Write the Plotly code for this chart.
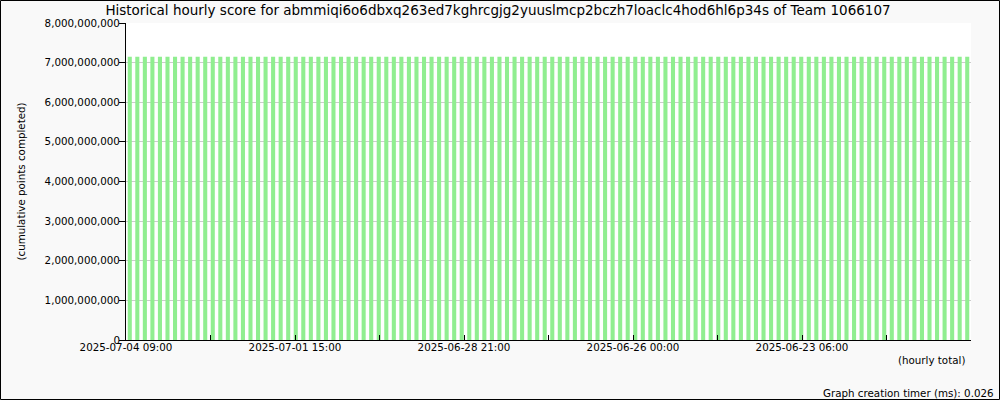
import plotly.graph_objects as go

title_text = "Historical hourly score for abmmiqi6o6dbxq263ed7kghrcgjg2yuuslmcp2bczh7loaclc4hod6hl6p34s of Team 1066107"

# 112 hourly bars, all at the same cumulative score
scores = [
    7150000000, 7150000000, 7150000000, 7150000000, 7150000000, 7150000000, 7150000000, 7150000000,
    7150000000, 7150000000, 7150000000, 7150000000, 7150000000, 7150000000, 7150000000, 7150000000,
    7150000000, 7150000000, 7150000000, 7150000000, 7150000000, 7150000000, 7150000000, 7150000000,
    7150000000, 7150000000, 7150000000, 7150000000, 7150000000, 7150000000, 7150000000, 7150000000,
    7150000000, 7150000000, 7150000000, 7150000000, 7150000000, 7150000000, 7150000000, 7150000000,
    7150000000, 7150000000, 7150000000, 7150000000, 7150000000, 7150000000, 7150000000, 7150000000,
    7150000000, 7150000000, 7150000000, 7150000000, 7150000000, 7150000000, 7150000000, 7150000000,
    7150000000, 7150000000, 7150000000, 7150000000, 7150000000, 7150000000, 7150000000, 7150000000,
    7150000000, 7150000000, 7150000000, 7150000000, 7150000000, 7150000000, 7150000000, 7150000000,
    7150000000, 7150000000, 7150000000, 7150000000, 7150000000, 7150000000, 7150000000, 7150000000,
    7150000000, 7150000000, 7150000000, 7150000000, 7150000000, 7150000000, 7150000000, 7150000000,
    7150000000, 7150000000, 7150000000, 7150000000, 7150000000, 7150000000, 7150000000, 7150000000,
    7150000000, 7150000000, 7150000000, 7150000000, 7150000000, 7150000000, 7150000000, 7150000000,
    7150000000, 7150000000, 7150000000, 7150000000, 7150000000, 7150000000, 7150000000, 7150000000,
]
bar_index = list(range(len(scores)))

x_tick_labels = ["2025-07-04 09:00", "", "2025-07-01 15:00", "", "2025-06-28 21:00", "",
                 "2025-06-26 00:00", "", "2025-06-23 06:00", ""]
y_tick_values = [0, 1e9, 2e9, 3e9, 4e9, 5e9, 6e9, 7e9, 8e9]
y_tick_labels = ["0", "1,000,000,000", "2,000,000,000", "3,000,000,000", "4,000,000,000",
                 "5,000,000,000", "6,000,000,000", "7,000,000,000", "8,000,000,000"]

W, H = 1000, 400
ml, mr, mt, mb = 126, 29, 23, 60
pw, ph = W - ml - mr, H - mt - mb

n = len(scores)
x_lo, x_hi = -0.5, n - 0.5
tick_step = n / len(x_tick_labels)
x_tick_vals = [x_lo + k * tick_step for k in range(len(x_tick_labels))]

font = "DejaVu Sans, Verdana, sans-serif"
small = 10.3

fig = go.Figure()
fig.add_trace(go.Bar(
    x=bar_index, y=scores, width=0.54,
    marker=dict(color="#90ee90", line=dict(width=0)),
    hoverinfo="skip",
))

fig.update_layout(
    width=W, height=H,
    margin=dict(l=ml, r=mr, t=mt, b=mb, pad=0),
    paper_bgcolor="#f9f9f9", plot_bgcolor="#ffffff",
    showlegend=False,
    font=dict(family=font, size=small, color="#000000"),
    title=dict(text=title_text, x=0.498, xanchor="center", y=1 - 10 / H, yanchor="middle",
               font=dict(family=font, size=13.5, color="#000000")),
    xaxis=dict(
        range=[x_lo, x_hi], tickmode="array", tickvals=x_tick_vals, ticktext=x_tick_labels,
        ticks="inside", ticklen=5, tickcolor="#000000", tickwidth=1,
        showline=True, linecolor="#000000", linewidth=1, showgrid=False, zeroline=False,
        tickfont=dict(size=small), ticklabelstandoff=-2,
    ),
    yaxis=dict(
        range=[0, 8e9], tickmode="array", tickvals=y_tick_values, ticktext=y_tick_labels,
        ticks="outside", ticklen=6, tickcolor="#000000", tickwidth=1,
        showline=True, linecolor="#000000", linewidth=1,
        showgrid=True, gridcolor="#cccccc", gridwidth=1, zeroline=False,
        tickfont=dict(size=small), layer="below traces", ticklabelstandoff=-3,
    ),
    annotations=[
        dict(text="(cumulative points completed)", xref="paper", yref="paper",
             x=(20 - ml) / pw, y=0.5, xanchor="center", yanchor="middle",
             textangle=-90, showarrow=False, font=dict(size=small)),
        dict(text="(hourly total)", xref="paper", yref="paper",
             x=(967 - ml) / pw, y=(H - mb - 359.5) / ph, xanchor="right", yanchor="middle",
             showarrow=False, font=dict(size=small)),
        dict(text="Graph creation timer (ms): 0.026", xref="paper", yref="paper",
             x=(996 - ml) / pw, y=(H - mb - 392.5) / ph, xanchor="right", yanchor="middle",
             showarrow=False, font=dict(size=small)),
    ],
    shapes=[
        dict(type="rect", xref="paper", yref="paper",
             x0=(0.5 - ml) / pw, x1=(W - 0.5 - ml) / pw,
             y0=(H - mb - (H - 0.5)) / ph, y1=(H - mb - 0.5) / ph,
             line=dict(color="#000000", width=1), fillcolor="rgba(0,0,0,0)", layer="above"),
    ],
)

fig.write_html("out.html", config={"displayModeBar": False},
               post_script="document.body.style.margin='0';document.body.style.overflow='hidden';")
